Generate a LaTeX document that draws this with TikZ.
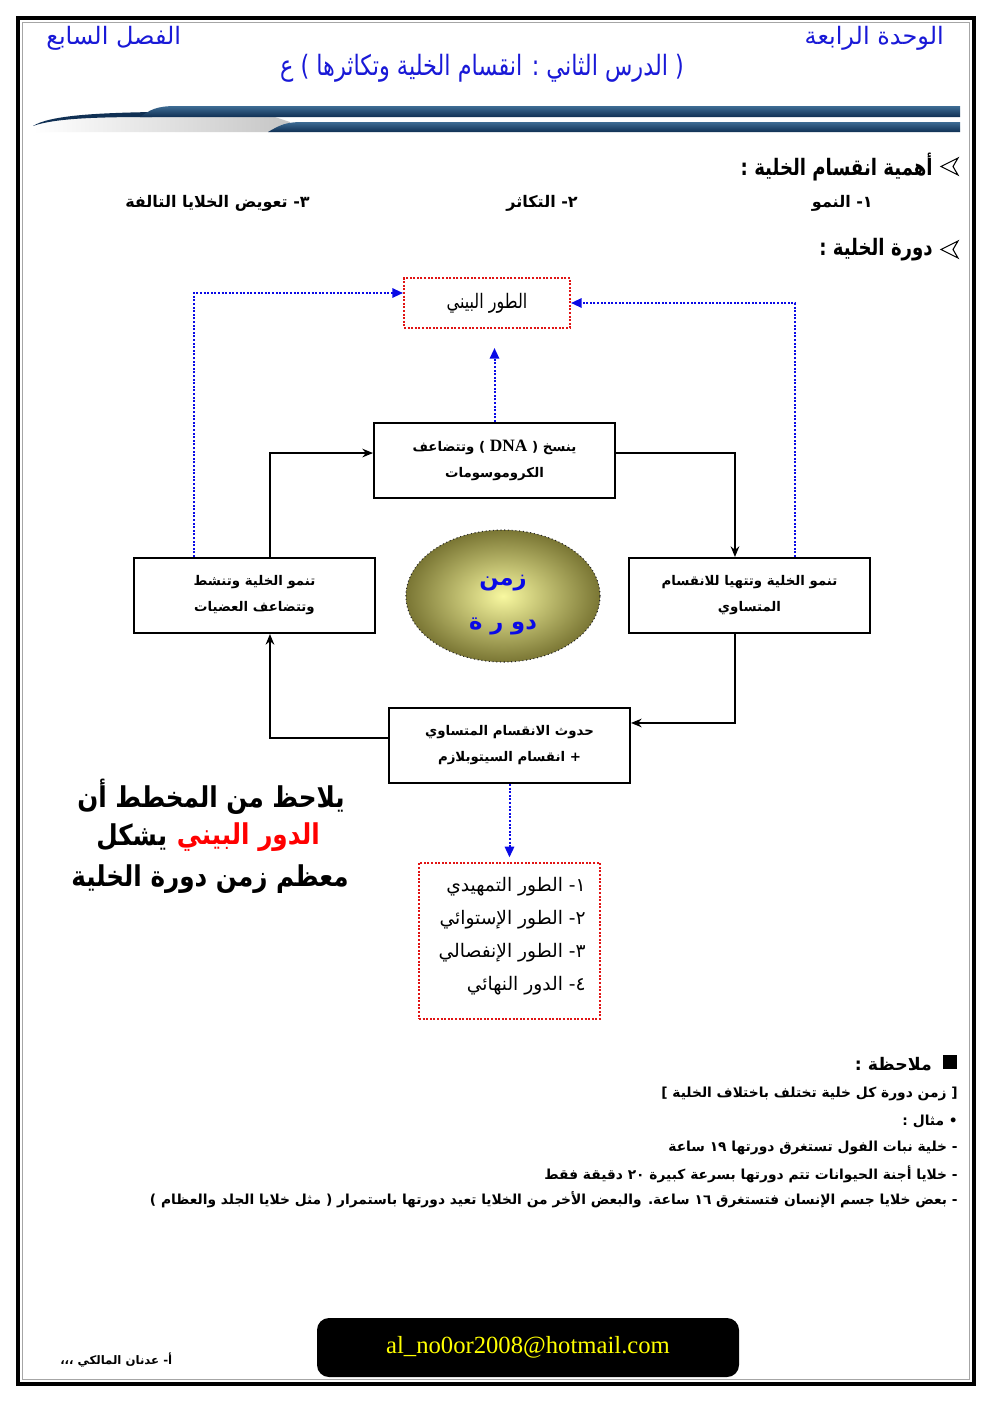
\documentclass[tikz,border=0pt]{standalone}
\usepackage{fontspec}
\usepackage{xcolor}
\setmainfont{DejaVu Sans}
\newfontfamily\arabicfont[Script=Arabic]{DejaVu Sans}
\newfontfamily\titlefont[Script=Arabic,FakeStretch=0.8]{DejaVu Sans}
\newfontfamily\remarkfont[Script=Arabic,FakeStretch=0.86]{DejaVu Sans}
\newfontfamily\mailfont{Liberation Serif}
\TeXXeTstate=1
\newcommand{\rtl}[1]{\beginR #1\endR}
\definecolor{hdrblue}{RGB}{25,25,215}
\definecolor{barnavy}{RGB}{16,48,84}
\definecolor{barlight}{RGB}{62,108,148}
\definecolor{dotred}{RGB}{225,20,20}
\definecolor{linkblue}{RGB}{10,10,230}
\definecolor{ovalcore}{RGB}{248,248,160}
\definecolor{ovaledge}{RGB}{122,118,52}
\definecolor{mailyellow}{RGB}{255,255,0}
\usetikzlibrary{arrows.meta,positioning,shapes.geometric,calc}
\tikzset{
  cyclebox/.style={draw=black, line width=1.5pt, minimum width=180.75pt, minimum height=56.25pt,
    align=center, font=\arabicfont\bfseries\fontsize{10}{19.5}\selectfont},
  dotbox/.style={draw=dotred, line width=1.5pt, dash pattern=on 1.5pt off 1.2pt},
  cyclearrow/.style={-{Stealth[length=8pt,width=6.5pt]}, line width=1pt},
  backarrow/.style={-{Triangle[length=8pt,width=7pt]}, draw=linkblue, line width=1.5pt,
    dash pattern=on 1.5pt off 1.2pt},
  rtext/.style={anchor=east, inner sep=0pt, font=\arabicfont\bfseries\fontsize{10.35}{12}\selectfont},
  headtext/.style={inner sep=0pt, text=hdrblue, font=\arabicfont\fontsize{18}{20}\selectfont},
  sectiontext/.style={anchor=east, inner sep=0pt, font=\titlefont\bfseries\fontsize{17}{20}\selectfont},
  bigtext/.style={inner sep=0pt, font=\remarkfont\bfseries\fontsize{21.5}{24}\selectfont},
}

\begin{document}
\begin{tikzpicture}[x=0.75pt,y=-0.75pt]
  \useasboundingbox (0,0) rectangle (992,1403);
  \fill[white] (0,0) rectangle (992,1403);
  % page frame
  \draw[line width=3pt] (18,18) rectangle (974,1384);
  \draw[gray!70, line width=0.75pt] (22.5,22.5) rectangle (969.5,1379.5);

  % header
  \node[headtext, anchor=east] (unit) at (944,38) {\rtl{الوحدة الرابعة}};
  \node[headtext, anchor=west] (chapter) at (46,38) {\rtl{الفصل السابع}};
  \node[headtext, font=\titlefont\fontsize{21}{24}\selectfont] (lesson) at (482,68)
    {\rtl{( الدرس الثاني : انقسام الخلية وتكاثرها ) ع}};

  % header bar
  \shade[left color=white, right color=gray!45] (33,132) -- (33,122) .. controls (60,116) and (120,117) .. (150,117)
    -- (275,117) -- (290,122) -- (290,132) -- cycle;
  \fill[barnavy] (33,126) .. controls (50,115) and (100,113) .. (152,112) -- (152,117)
    .. controls (100,117) and (55,118) .. (33,126) -- cycle;
  \shade[top color=barlight, bottom color=barnavy] (140,117) .. controls (150,110) and (156,106) .. (176,106)
    -- (960,106) -- (960,117) -- cycle;
  \shade[top color=barlight, bottom color=barnavy] (268,132) .. controls (280,125) and (286,122) .. (302,122)
    -- (960,122) -- (960,132) -- cycle;

  % importance of division
  \draw[line width=0.8pt, fill=white] (958,158) -- (941,166.5) -- (958,175) -- (953,166.5) -- cycle;
  \node[sectiontext] (importance) at (933,167) {\rtl{أهمية انقسام الخلية :}};
  \node[rtext, font=\arabicfont\bfseries\fontsize{12}{14}\selectfont] (growth) at (873,203) {\rtl{١- النمو}};
  \node[rtext, font=\arabicfont\bfseries\fontsize{12}{14}\selectfont] (repro) at (578,203) {\rtl{٢- التكاثر}};
  \node[rtext, font=\arabicfont\bfseries\fontsize{12}{14}\selectfont] (repair) at (310,203) {\rtl{٣- تعويض الخلايا التالفة}};

  % cell cycle
  \draw[line width=0.8pt, fill=white] (958,241) -- (941,249.5) -- (958,258) -- (953,249.5) -- cycle;
  \node[sectiontext] (cycletitle) at (933,250) {\rtl{دورة الخلية :}};

  \node[dotbox, minimum width=124.5pt, minimum height=37.5pt,
    font=\titlefont\fontsize{15}{18}\selectfont] (inter) at (487,303) {\rtl{الطور البيني}};
  \node[cyclebox] (dna) at (494.5,460.5)
    {\rtl{ينسخ ( {\mailfont\bfseries\fontsize{13}{15}\selectfont DNA} ) وتتضاعف}\\\rtl{الكروموسومات}};
  \node[cyclebox] (grow) at (254.5,595.5) {\rtl{تنمو الخلية وتنشط}\\\rtl{وتتضاعف العضيات}};
  \node[cyclebox] (prep) at (749.5,595.5) {\rtl{تنمو الخلية وتتهيا للانقسام}\\\rtl{المتساوي}};
  \node[cyclebox] (split) at (509.5,745.5) {\rtl{حدوث الانقسام المتساوي}\\\rtl{+ انقسام السيتوبلازم}};

  \node[ellipse, minimum width=145.5pt, minimum height=99pt, inner color=ovalcore, outer color=ovaledge,
    draw=black!85, dotted, line width=0.8pt] (oval) at (503,596) {};
  \node[text=linkblue, font=\arabicfont\bfseries\fontsize{17}{20}\selectfont] (zaman) at (503,583) {زمن};
  \node[text=linkblue, font=\arabicfont\bfseries\fontsize{17}{20}\selectfont] (dawra) at (503,626) {\rtl{دو ر ة}};

  % cycle connectors
  \draw[cyclearrow] ([yshift=5.6pt]dna.east) -| ([xshift=-10.9pt]prep.north);
  \draw[cyclearrow] ([xshift=-10.9pt]prep.south) |- ([yshift=16.9pt]split.east);
  \draw[cyclearrow] ([yshift=5.6pt]split.west) -| ([xshift=11.6pt]grow.south);
  \draw[cyclearrow] ([xshift=11.6pt]grow.north) |- ([yshift=5.6pt]dna.west);

  % back to interphase
  \coordinate (dnagap) at (494.5,348);
  \draw[backarrow] (dna.north) -- (dnagap);
  \draw[backarrow] ([xshift=-45.4pt]grow.north) |- ([yshift=7.5pt]inter.west);
  \draw[backarrow] ([xshift=34.1pt]prep.north) |- (inter.east);

  % phases of mitosis
  \node[dotbox, minimum width=135.75pt, minimum height=117pt] (phases) at (509.5,941) {};
  \node[anchor=east, align=right, inner sep=0pt, font=\arabicfont\fontsize{14}{24.75}\selectfont] (phaselist)
    at (586,936) {\rtl{١-  الطور التمهيدي}\\\rtl{٢-  الطور الإستوائي}\\\rtl{٣-  الطور الإنفصالي}\\\rtl{٤-  الدور النهائي}};
  \draw[backarrow, shorten >=3.5pt] (split.south) -- (phases.north);

  % remark on the left
  \node[bigtext] (remark1) at (211,797) {\rtl{يلاحظ من المخطط أن}};
  \node[bigtext, anchor=east, text=red] (remark2) at (320,837) {\rtl{الدور البيني}};
  \node[bigtext, left=7pt of remark2] (remark2b) {يشكل};
  \node[bigtext] (remark3) at (210,879) {\rtl{معظم زمن دورة الخلية}};

  % note
  \fill (943,1055) rectangle (957,1069);
  \node[rtext, font=\arabicfont\bfseries\fontsize{13}{15}\selectfont] (note) at (932,1064) {\rtl{ملاحظة :}};
  \node[rtext] (note1) at (958,1094) {\rtl{[ زمن دورة كل خلية تختلف باختلاف الخلية ]}};
  \node[rtext] (note2) at (958,1122) {\rtl{• مثال :}};
  \node[rtext] (note3) at (958,1148) {\rtl{-  خلية نبات الفول تستغرق دورتها ١٩ ساعة}};
  \node[rtext] (note4) at (958,1174) {\rtl{-  خلايا أجنة الحيوانات تتم دورتها بسرعة كبيرة ٢٠ دقيقة فقط}};
  \node[rtext] (note5) at (958,1200)
    {\rtl{-  بعض خلايا جسم الإنسان فتستغرق ١٦ ساعة. والبعض الأخر من الخلايا تعيد دورتها باستمرار ( مثل خلايا الجلد والعظام )}};

  % footer
  \node[fill=black, rounded corners=9pt, minimum width=316.5pt, minimum height=44.25pt, text=mailyellow,
    font=\mailfont\fontsize{18.5}{20}\selectfont] (mail) at (528,1347.5) {al\_no0or2008@hotmail.com};
  \node[rtext, anchor=west, font=\arabicfont\bfseries\fontsize{8.8}{10}\selectfont] (author) at (60,1360)
    {\rtl{أ- عدنان المالكي ،،،}};
\end{tikzpicture}
\end{document}
